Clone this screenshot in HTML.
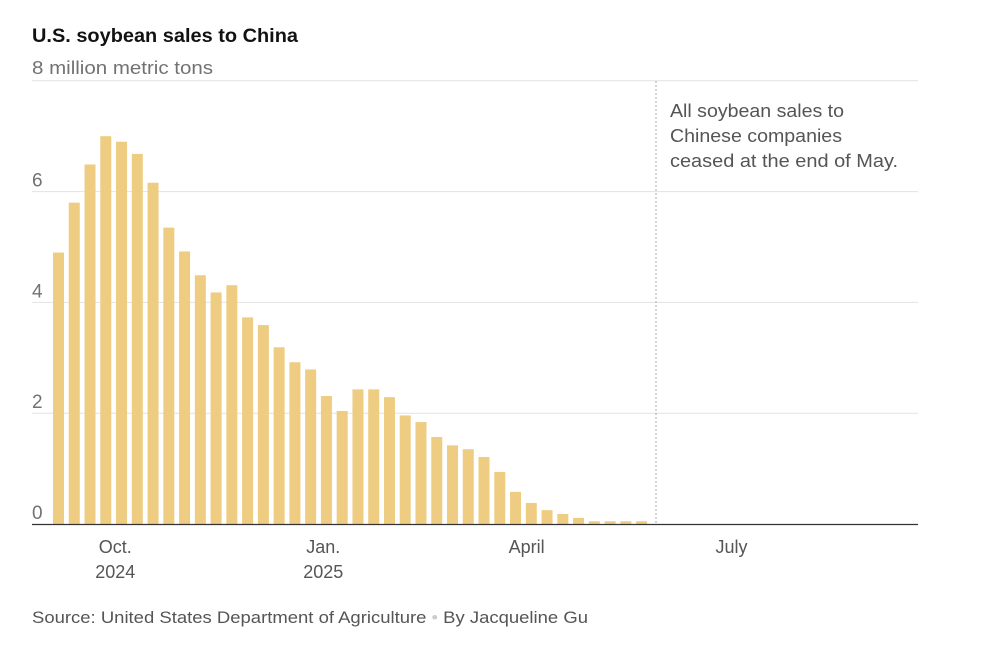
<!DOCTYPE html>
<html><head><meta charset="utf-8"><style>
body{margin:0;background:#fff;width:1000px;height:642px;overflow:hidden;font-family:"Liberation Sans",sans-serif}
</style></head><body>
<svg width="1000" height="642">
<text x="32" y="42" font-size="19" font-weight="bold" fill="#121212" textLength="266" lengthAdjust="spacingAndGlyphs">U.S. soybean sales to China</text>
<text x="32" y="74" font-size="18" fill="#727272" textLength="181" lengthAdjust="spacingAndGlyphs">8 million metric tons</text>
<g id="grid"></g>
<g id="bars"></g>
<line x1="656" x2="656" y1="81" y2="524" stroke="#aaa" stroke-dasharray="2,2"/>
<text font-size="18" fill="#555">
<tspan x="670" y="117" textLength="174" lengthAdjust="spacingAndGlyphs">All soybean sales to</tspan>
<tspan x="670" y="142" textLength="172" lengthAdjust="spacingAndGlyphs">Chinese companies</tspan>
<tspan x="670" y="167" textLength="228" lengthAdjust="spacingAndGlyphs">ceased at the end of May.</tspan></text>
<line x1="32" x2="918" y1="524.5" y2="524.5" stroke="#333" stroke-width="1.3"/>
<g id="xt"></g>
<text x="32" y="623" font-size="17" fill="#555" textLength="556" lengthAdjust="spacingAndGlyphs">Source: United States Department of Agriculture <tspan fill="#ccc">•</tspan> By Jacqueline Gu</text>
</svg>
<script>
const values=[4.9,5.8,6.49,7.0,6.9,6.68,6.16,5.35,4.92,4.49,4.18,4.31,3.73,3.59,3.19,2.92,2.79,2.31,2.04,2.43,2.43,2.29,1.96,1.84,1.57,1.42,1.35,1.21,0.94,0.58,0.38,0.25,0.18,0.11,0.05,0.05,0.05,0.05];
const yTicks=[0,2,4,6];
const xLabels=[["Oct.","2024"],["Jan.","2025"],["April",""],["July",""]];
const xLabelWeeks=[3.6,16.8,29.7,42.7];
const NS="http://www.w3.org/2000/svg";
const y=v=>524-v*55.4;
const x=i=>53+i*15.76;
function mk(t,a,p){const e=document.createElementNS(NS,t);for(const k in a)e.setAttribute(k,a[k]);p.appendChild(e);return e;}
const g=document.getElementById('grid');
[2,4,6,8].forEach(v=>{const l=mk('line',{x1:32,x2:918,y1:y(v),y2:y(v),stroke:'#e2e2e2'},g);

});
yTicks.forEach(v=>{const t=mk('text',{x:32,y:y(v)-5,'font-size':19,fill:'#727272'},g);t.textContent=v;

});
const b=document.getElementById('bars');
values.forEach((v,i)=>{const r=mk('rect',{x:x(i),y:y(v),width:11,height:524-y(v),fill:'#eecd82'},b);

});
const xt=document.getElementById('xt');
xLabels.forEach((l,i)=>{const cx=x(xLabelWeeks[i])+5.5;
const t=mk('text',{x:cx,y:553,'font-size':18,fill:'#555','text-anchor':'middle'},xt);t.textContent=l[0];


if(l[1]){const t2=mk('text',{x:cx,y:578,'font-size':18,fill:'#555','text-anchor':'middle'},xt);t2.textContent=l[1];

}});
</script>
</body></html>
